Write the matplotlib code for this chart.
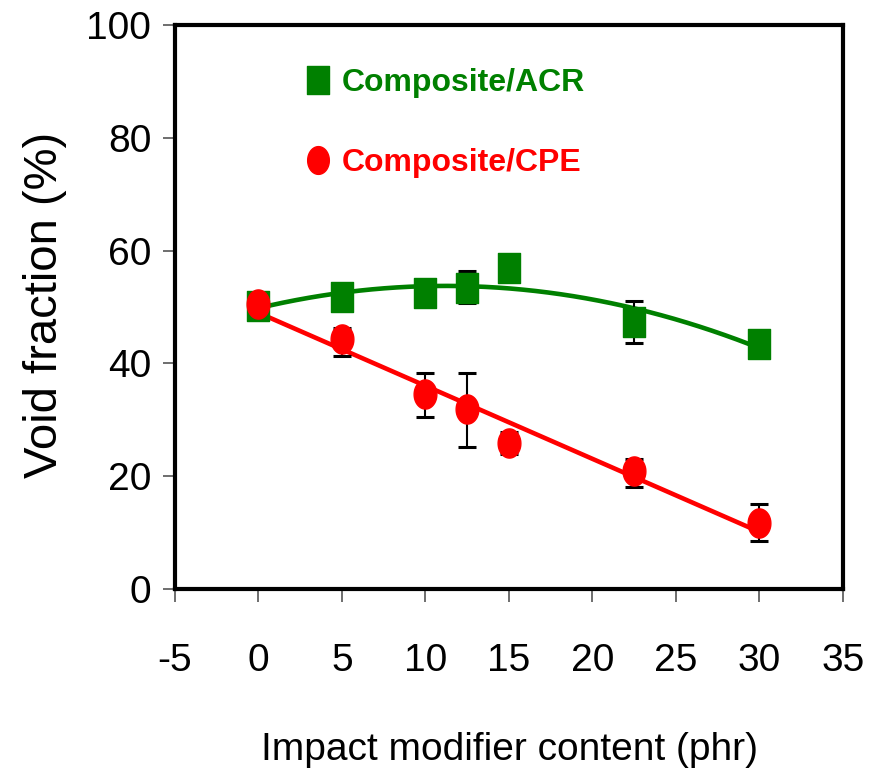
import numpy as np
import matplotlib
matplotlib.use("Agg")
import matplotlib.pyplot as plt
from matplotlib.path import Path
from matplotlib.lines import Line2D

# data
content = [0, 5, 10, 12.5, 15, 22.5, 30]
acr = [50.2, 51.8, 52.5, 53.4, 56.9, 47.3, 43.4]
acr_lo = [0, 0, 0, 50.7, 0, 43.6, 0]
acr_hi = [0, 0, 0, 56.4, 0, 51.1, 0]
cpe = [50.5, 44.3, 34.6, 31.9, 25.9, 20.9, 11.7]
cpe_lo = [0, 41.3, 30.5, 25.2, 23.9, 18.1, 8.5]
cpe_hi = [0, 46.3, 38.3, 38.3, 27.8, 23.0, 15.1]

xticks = [-5, 0, 5, 10, 15, 20, 25, 30, 35]
yticks = [0, 20, 40, 60, 80, 100]

font = ['Liberation Sans', 'DejaVu Sans']
green = '#008000'
red = '#ff0000'

x = np.array(content)

def err(vals, lo, hi):
    v = np.array(vals)
    lo = np.array(lo, dtype=float)
    hi = np.array(hi, dtype=float)
    low = np.where(lo > 0, v - lo, 0)
    up = np.where(hi > 0, hi - v, 0)
    return [low, up]

# tall ellipse / rectangle markers like the original
t = np.linspace(0, 2 * np.pi, 60)
ellipse = Path(np.column_stack([0.78 * np.cos(t), np.sin(t)]), closed=True)
rect = Path([(-0.77, -1), (0.77, -1), (0.77, 1), (-0.77, 1), (-0.77, -1)], closed=True)

fig = plt.figure(figsize=(8.78, 7.75), dpi=100)
ax = fig.add_axes([0.1993, 0.24, 0.7608, 0.7277])

# trend lines
xf = np.linspace(0, 30, 200)
pg = np.polyfit(x, acr, 2)
ax.plot(xf, np.polyval(pg, xf), color=green, lw=3.3, zorder=2)
pr = np.polyfit(x, cpe, 1)
ax.plot(xf, np.polyval(pr, xf), color=red, lw=3.3, zorder=2)

ax.errorbar(x, acr, yerr=err(acr, acr_lo, acr_hi), fmt='none', ecolor='black',
            elinewidth=1.5, capsize=6.5, capthick=2.2, zorder=3)
ax.errorbar(x, cpe, yerr=err(cpe, cpe_lo, cpe_hi), fmt='none', ecolor='black',
            elinewidth=1.5, capsize=6.5, capthick=2.2, zorder=3)
ax.plot(x, acr, ls='none', marker=rect, ms=21.5, color=green, zorder=4)
ax.plot(x, cpe, ls='none', marker=ellipse, ms=21, color=red, zorder=5)

ax.set_xlim(-5, 35)
ax.set_ylim(0, 100)
ax.set_xticks(xticks)
ax.set_yticks(yticks)
ax.set_xticklabels([str(v) for v in xticks], family=font, fontsize=28)
ax.set_yticklabels([str(v) for v in yticks], family=font, fontsize=28)
ax.tick_params(axis='both', direction='out', length=9, width=1.2, color='#555555')
ax.tick_params(axis='x', pad=30)
ax.tick_params(axis='y', pad=8)
for s in ax.spines.values():
    s.set_linewidth(3)

ax.set_ylabel('Void fraction (%)', family=font, fontsize=34, va='center')
ax.yaxis.set_label_coords(-0.195, 0.5035)
ax.set_xlabel('Impact modifier content (phr)', family=font, fontsize=28, va='center')
ax.xaxis.set_label_coords(0.5015, -0.2855)

handles = [Line2D([], [], ls='none', marker=rect, ms=20, color=green),
           Line2D([], [], ls='none', marker=ellipse, ms=20, color=red)]
leg = ax.legend(handles, ['Composite/ACR', 'Composite/CPE'], loc='upper left',
                bbox_to_anchor=(0.157, 0.974), frameon=False, handlelength=0.6,
                handletextpad=0.45, labelspacing=1.55,
                prop={'family': font, 'weight': 'bold', 'size': 23},
                labelcolor=[green, red])

fig.savefig('out.png', dpi=100)
